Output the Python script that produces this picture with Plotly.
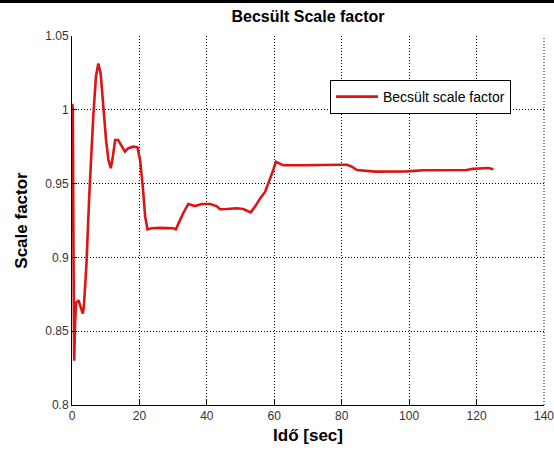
import plotly.graph_objects as go

# Data
time_sec = [0, 0.1, 0.25, 0.45, 0.65, 0.9, 1.2, 1.9, 2.6, 3.2, 3.5, 4.3, 5.1, 5.8, 6.3,
            7.1, 7.8, 8.5, 9.3, 10.1, 10.8, 11.5, 12.1, 12.8, 13.7, 14.7, 15.7, 16.7,
            18.2, 19.4, 20.2, 21.0, 21.7, 22.4, 23.6, 26.1, 30.0, 30.8, 31.8, 33.0,
            34.5, 36.5, 38.5, 40.9, 42.9, 43.9, 45.9, 48.9, 50.8, 52.0, 53.0, 54.3,
            55.8, 57.3, 58.7, 59.7, 60.5, 61.7, 62.7, 68.6, 73.6, 79.5, 81.5, 83.0,
            84.5, 85.5, 89.9, 99.3, 104.2, 117.0, 119.0, 123.5, 125.0]
scale_factor = [0.918, 1.004, 1.0, 0.90, 0.83, 0.855, 0.869, 0.871, 0.8666, 0.862, 0.866,
                0.896, 0.941, 0.975, 0.995, 1.0224, 1.0314, 1.0247, 1.002, 0.9795, 0.966,
                0.9604, 0.968, 0.9795, 0.9795, 0.976, 0.9716, 0.974, 0.975, 0.9746, 0.966,
                0.948, 0.9276, 0.919, 0.9197, 0.920, 0.9197, 0.919, 0.924, 0.930, 0.9362,
                0.9348, 0.9362, 0.9362, 0.9348, 0.9326, 0.9328, 0.9333, 0.9328, 0.9314,
                0.9305, 0.9344, 0.94, 0.9445, 0.9524, 0.9592, 0.9648, 0.9637, 0.9624,
                0.9624, 0.9628, 0.9628, 0.9628, 0.9615, 0.9592, 0.959, 0.9581, 0.9583,
                0.959, 0.9592, 0.96, 0.9606, 0.9597]

x_ticks = [0, 20, 40, 60, 80, 100, 120, 140]
x_tick_labels = ["0", "20", "40", "60", "80", "100", "120", "140"]
y_ticks = [0.8, 0.85, 0.9, 0.95, 1.0, 1.05]
y_tick_labels = ["0.8", "0.85", "0.9", "0.95", "1", "1.05"]

FONT = "Liberation Sans, Arial, sans-serif"

fig = go.Figure()
fig.add_trace(go.Scatter(
    x=time_sec, y=scale_factor, mode="lines",
    name="Becsült scale factor",
    line=dict(color="#dc1414", width=2.6),
))

axis_common = dict(
    showline=True, linecolor="black", linewidth=1,
    ticks="inside", ticklen=5, tickcolor="black", tickwidth=1,
    showgrid=True, gridcolor="black", gridwidth=1, griddash="1px,2px",
    zeroline=False, mirror=False, automargin=False, ticklabeloverflow="allow",
    tickfont=dict(family=FONT, size=12, color="#333"),
)

fig.update_layout(
    width=554, height=452,
    margin=dict(l=72, r=10, t=36, b=47),
    paper_bgcolor="white", plot_bgcolor="white",
    title=dict(text="<b>Becsült Scale factor</b>", x=308 / 554, xanchor="center",
               y=1 - 16 / 452, yanchor="middle",
               font=dict(family=FONT, size=16, color="black")),
    xaxis=dict(range=[0, 140], tickvals=x_ticks, ticktext=x_tick_labels,
               title=dict(text="<b>Idő [sec]</b>", standoff=6,
                          font=dict(family=FONT, size=17, color="black")),
               **axis_common),
    yaxis=dict(range=[0.8, 1.05], tickvals=y_ticks, ticktext=y_tick_labels,
               title=dict(text="<b>Scale factor</b>", standoff=13,
                          font=dict(family=FONT, size=17, color="black")),
               **axis_common),
    showlegend=True,
    legend=dict(x=(330 - 72) / 472, y=(405 - 80) / 369, xanchor="left", yanchor="top",
                bgcolor="white", bordercolor="black", borderwidth=1, itemwidth=42,
                font=dict(family=FONT, size=14, color="black")),
    shapes=[
        # frame line along the top edge of the picture
        dict(type="line", xref="paper", yref="paper", layer="above",
             x0=-72 / 472, x1=1 + 10 / 472, y0=1 + 34.5 / 369, y1=1 + 34.5 / 369,
             line=dict(color="black", width=3)),
        # dotted box edge on the right side of the axes
        dict(type="line", xref="x domain", yref="y domain", layer="above",
             x0=1, x1=1, y0=0, y1=1,
             line=dict(color="black", width=1, dash="1px,2px")),
    ],
)

fig.write_html(
    "out.html",
    config={"displayModeBar": False},
    post_script="document.body.style.margin='0';document.body.style.overflow='hidden';",
)
